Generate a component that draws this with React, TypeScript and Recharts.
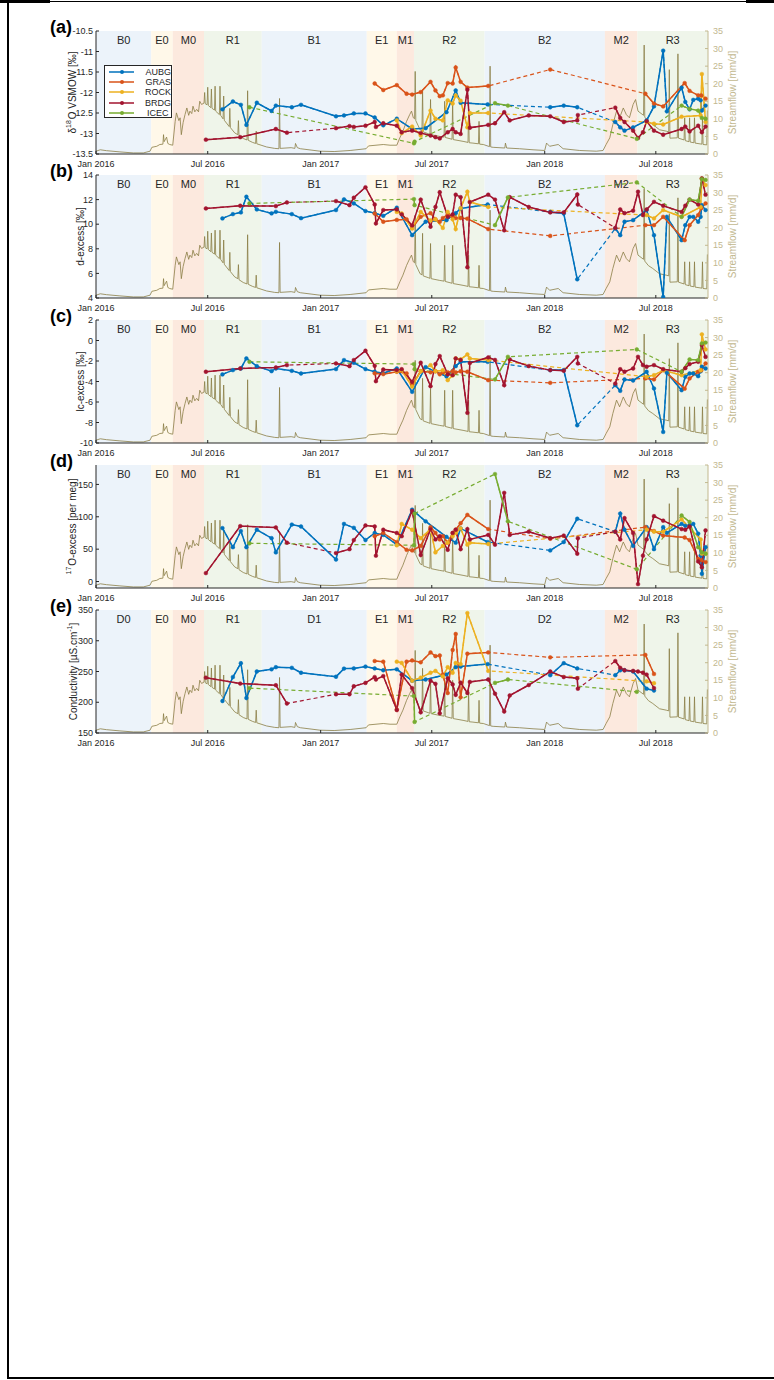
import type { ReactNode } from "react";
import { ComposedChart, Legend, Line, ReferenceArea, XAxis, YAxis } from "recharts";

const FONT = '"Liberation Sans", Arial, Helvetica, sans-serif';
const INK = "#262626";
const FLOW_INK = "#8a7d45";
const FLOW_AXIS = "#c2b88f";

// x axis in days since 1 Jan 2016
const X_MAX = 997;
const X_TICKS = [0, 182, 366, 547, 731, 912];
const X_TICK_LABELS = ["Jan 2016", "Jul 2016", "Jan 2017", "Jul 2017", "Jan 2018", "Jul 2018"];

// hydrological periods (background bands)
const PERIOD_NAMES = ["B0", "E0", "M0", "R1", "B1", "E1", "M1", "R2", "B2", "M2", "R3"];
const PERIOD_NAMES_E = ["D0", "E0", "M0", "R1", "D1", "E1", "M1", "R2", "D2", "M2", "R3"];
const PERIOD_START = [0, 90, 125, 176, 270, 441, 490, 518, 633, 829, 882];
const PERIOD_END = [90, 125, 176, 270, 441, 490, 518, 633, 829, 882, 997];
const PERIOD_FILL: Record<string, string> = {
  B: "#ecf3fa",
  E: "#fff8e9",
  M: "#fce9de",
  R: "#eff5ea",
};

// streamflow [mm/d]
const FLOW_DAYS = [
  0, 7, 17, 39, 61, 77, 88, 91, 99, 104, 109, 110, 111, 115, 117, 120, 125, 129, 131, 135, 137, 139, 142,
  145, 148, 151, 153, 156, 158, 161, 164, 167, 169, 172, 176, 177, 178, 181, 182, 183, 187, 188, 189, 193,
  194, 195, 201, 202, 203, 207, 208, 209, 217, 218, 219, 226, 231, 232, 233, 240, 246, 247, 248, 255, 260,
  261, 262, 278, 291, 298, 299, 300, 318, 324, 325, 328, 333, 365, 388, 414, 440, 444, 468, 479, 490, 495,
  500, 506, 511, 514, 517, 519, 520, 521, 525, 528, 531, 532, 533, 541, 544, 545, 546, 560, 567, 568, 569,
  580, 581, 582, 598, 606, 607, 608, 614, 623, 624, 625, 631, 641, 642, 643, 647, 666, 667, 669, 690, 712,
  731, 734, 739, 753, 761, 788, 815, 826, 831, 837, 842, 848, 853, 859, 864, 869, 875, 879, 883, 892, 893,
  894, 900, 907, 918, 929, 933, 934, 935, 947, 948, 949, 958, 959, 960, 966, 967, 968, 974, 975, 976, 987,
  988, 989, 995, 996,
];
const FLOW_MM = [
  0.8, 1.2, 0.95, 0.6, 0.3, 0.3, 0.8, 1.9, 2.2, 2.7, 2.8, 5.5, 3.5, 4.8, 3.0, 2.7, 2.5, 9.3, 11.7, 9.5, 10.3,
  5.5, 9.0, 11.2, 13.1, 11.0, 12.2, 11.5, 13.6, 12.0, 12.7, 12.0, 15, 14.1, 14.5, 17.5, 14.3, 14, 19, 13.8,
  13.2, 18.5, 13, 12.5, 19.3, 12.2, 11.2, 19.3, 11, 10, 16.5, 9.6, 7.8, 13, 7.5, 6, 5.5, 9.5, 5.2, 4.4, 4,
  18, 3.9, 3.3, 3, 6.5, 2.9, 2, 1.6, 1.5, 15.8, 1.6, 1.8, 1.6, 3.0, 1.8, 1.5, 0.8, 0.7, 1.0, 1.5, 2.3, 2.7,
  2.5, 2.5, 4.6, 6.5, 9.3, 11.2, 12.2, 10.3, 10, 23.5, 9.5, 8.0, 6.9, 6.6, 18.4, 6.3, 5.8, 5.6, 15.5, 5.5,
  5.0, 4.8, 15, 4.7, 4.2, 15, 4.1, 3.6, 3.3, 12.2, 3.2, 3.1, 2.9, 9.3, 2.8, 2.7, 2.1, 25, 2.0, 1.9, 1.7,
  3.1, 1.7, 1.5, 1.2, 1.0, 3.1, 2.2, 2.7, 1.5, 1.0, 0.8, 1.0, 2.7, 4.6, 8.4, 12.2, 10.3, 13.1, 11.2, 10.3,
  14.1, 15.5, 12.2, 11, 31, 10.5, 9.2, 8.4, 6.9, 6.5, 6.3, 24, 4.5, 4.6, 28.5, 4.5, 4.0, 10.3, 3.8, 3.5,
  10.3, 3.4, 3.2, 10.3, 3.1, 2.8, 10.3, 2.7, 2.6, 12.4,
];

// stations
const STATIONS = ["AUBG", "GRAS", "ROCK", "BRDG", "ICEC"];
const STATION_COLORS = ["#0072bd", "#d95319", "#edb120", "#a2142f", "#77ac30"];

// AUBG
const AUBG_DAYS = [
  206, 223, 236, 245, 262, 286, 293, 319, 334, 391, 404, 420, 439, 454, 468, 490, 515, 537, 571, 586,
  594, 638, 740, 762, 784, 846, 854, 861, 875, 897, 909, 924, 930, 954, 960, 967, 973, 981, 985, 987, 993,
];
const AUBG_BREAKS = [740, 846];
const AUBG_D18O = [
  -12.41, -12.22, -12.3, -12.79, -12.25, -12.45, -12.32, -12.36, -12.3, -12.58, -12.56, -12.51, -12.51,
  -12.61, -12.8, -12.64, -12.89, -12.87, -12.48, -11.95, -12.25, -12.29, -12.36, -12.32, -12.36, -12.72,
  -12.85, -12.93, -12.85, -12.68, -12.34, -10.98, -12.46, -11.88, -12.23, -12.41, -12.18, -12.15, -12.19,
  -12.44, -12.32,
];
const AUBG_DEXC = [
  10.47, 10.82, 10.96, 12.23, 11.2, 10.88, 11.01, 10.82, 10.49, 11.15, 12.02, 11.69, 11.07, 10.9, 10.68,
  11.34, 9.11, 10.2, 10.33, 10.9, 11.28, 11.6, 11.0, 10.87, 5.52, 9.65, 9.11, 10.2, 10.33, 11.15, 9.11,
  4.08, 10.6, 8.7, 9.92, 10.6, 10.6, 10.2, 10.6, 11.55, 11.15,
];
const AUBG_LCEXC = [
  -3.31, -2.89, -2.73, -1.75, -2.5, -2.99, -2.73, -2.96, -3.22, -2.79, -1.91, -2.17, -2.79, -3.05, -3.2,
  -2.73, -5.01, -2.6, -3.5, -2.5, -2.08, -2.08, -2.89, -2.89, -8.27, -4.36, -4.91, -3.8, -3.9, -3.05,
  -4.68, -8.92, -3.15, -4.85, -3.54, -3.22, -3.22, -3.48, -3.0, -2.56, -2.73,
];
const AUBG_O17 = [
  82.5, 53, 78, 53, 80, 67, 45, 88, 85, 34, 89, 83, 64, 75, 72, 57, 111, 93, 69, 60, 82, 61, 48, 61, 97,
  77, 105, 80, 55, 84, 50, 84, 75, 89, 86, 87, 89, 74, 40, 12, 53,
];
const AUBG_COND = [
  202, 241, 263.5, 207, 250, 253.6, 257, 256, 248, 241.5, 254.7, 255, 258, 255, 252, 253.6, 235, 237, 245,
  257, 258, 262, 244, 263.5, 255, 244, 252, 252, 250, 222, 219, null, null, null, null, null, null, null,
  null, null, null,
];

// GRAS
const GRAS_DAYS = [
  454, 468, 490, 506, 515, 529, 545, 553, 560, 565, 573, 581, 586, 594, 605, 639, 740, 895, 909, 924, 959,
  967, 981, 986, 993,
];
const GRAS_BREAKS = [740, 895];
const GRAS_D18O = [
  -11.78, -11.94, -11.82, -12.03, -12.05, -11.99, -11.74, -11.95, -12.09, -12.07, -11.77, -11.78, -11.39,
  -11.74, -11.88, -11.84, -11.44, -12.03, -12.27, -12.34, -11.77, -11.96, -12.07, -12.07, -12.15,
];
const GRAS_DEXC = [
  10.87, 10.2, 10.35, 10.4, 9.7, 10.6, 10.9, 10.4, 10.2, 10.5, 10.8, 10.6, 10.5, 10.5, 10.45, 9.6, 9.05,
  9.92, 9.92, 10.6, 8.7, 9.92, 10.74, 11.3, 11.69,
];
const GRAS_LCEXC = [
  -3.2, -3.28, -3.05, -3.2, -4.3, -3.0, -3.1, -3.0, -3.3, -3.1, -3.1, -3.0, -3.1, -3.0, -3.05, -3.87, -4.13,
  -3.7, -3.8, -2.89, -4.7, -3.7, -3.05, -2.9, -2.24,
];
const GRAS_O17 = [
  70, 75, 61, 49, 48, 55, 84, 75, 65, 70, 60, 75, 80, 90, 103, 81, 66, 84, 78, 71, 68, 64, 35, 33, 30,
];
const GRAS_COND = [
  267, 266, 188, 266, 268, 265, 281, 275, 276, 245, 215, 285, 311, 208, 279, 281, 273, 277, 246, null,
  null, null, null, null, null,
];

// ROCK
const ROCK_DAYS = [
  490, 498, 515, 529, 545, 553, 565, 573, 581, 586, 594, 605, 609, 639, 897, 909, 924, 954, 985, 987, 993,
];
const ROCK_BREAKS = [897];
const ROCK_D18O = [
  -12.68, -12.99, -12.83, -13.05, -12.44, -12.64, -12.68, -12.19, -12.27, -12.07, -12.2, -12.85, -12.5,
  -12.5, -12.72, -12.76, -12.78, -12.59, -12.56, -11.55, -12.72,
];
const ROCK_DEXC = [
  11.0, 10.87, 9.65, 11.0, 10.3, 10.4, 9.7, 11.0, 10.4, 9.6, 11.3, 12.64, 11.8, 11.4, 10.74, 10.47, 11.15,
  10.6, 11.4, 13.7, 13.18,
];
const ROCK_LCEXC = [
  -3.0, -2.9, -4.5, -3.0, -2.4, -3.0, -2.9, -3.87, -3.4, -1.75, -1.85, -1.36, -1.75, -1.91, -3.54, -3.38,
  -2.9, -3.38, -2.9, 0.6, -0.87,
];
const ROCK_O17 = [56, 89, 80, 67, 81, 45, 55, 60, 70, 75, 82, 57, 60, 58, 80, 77, 77, 96, 65, 43, 43];
const ROCK_COND = [
  266, 264, 235, 240, 248, 251, 242, 257, 248, 264, 262, 345, null, 251, 234, 231, null, null, null, null,
  null,
];

// BRDG
const BRDG_DAYS = [
  179, 235, 293, 311, 391, 413, 420, 439, 454, 456, 468, 490, 498, 515, 529, 545, 553, 560, 573, 581, 586,
  594, 605, 609, 639, 650, 665, 674, 705, 740, 762, 784, 785, 846, 854, 861, 875, 883, 891, 897, 909, 924,
  954, 960, 967, 981, 987, 993,
];
const BRDG_BREAKS = [391, 846];
const BRDG_D18O = [
  -13.15, -13.09, -12.89, -12.98, -12.87, -12.82, -12.84, -12.81, -12.72, -12.84, -12.75, -12.81, -12.97,
  -12.93, -12.99, -13.05, -13.09, -13.12, -12.97, -12.89, -12.97, -13.01, -11.93, -12.86, -12.79, -12.75,
  -12.48, -12.68, -12.56, -12.58, -12.72, -12.68, -12.55, -12.37, -12.62, -12.72, -12.93, -13.11, -12.97,
  -12.7, -12.93, -13.03, -12.89, -12.83, -12.95, -12.81, -12.97, -12.83,
];
const BRDG_DEXC = [
  11.28, 11.5, 11.47, 11.77, 11.88, 11.55, 12.15, 13.0, 11.6, 10.06, 11.15, 11.2, 10.8, 9.9, 12.0, 9.8,
  11.4, 12.6, 10.6, 10.8, 12.4, 12.2, 6.5, 11.8, 12.4, 12.0, 9.5, 12.2, 11.4, 10.96, 10.96, 12.42, 11.6,
  9.7, 11.2, 10.9, 11.1, 12.64, 10.74, 11.2, 11.82, 11.5, 11.0, 11.5, 12.0, 11.6, 13.73, 12.4,
];
const BRDG_LCEXC = [
  -3.05, -2.73, -2.63, -2.4, -2.24, -2.5, -1.91, -1.0, -2.47, -3.97, -2.83, -2.89, -2.8, -4.03, -2.17,
  -4.46, -2.3, -1.52, -3.3, -3.38, -1.75, -1.9, -7.06, -2.2, -1.65, -1.9, -4.36, -1.85, -2.5, -2.89,
  -2.95, -1.59, -2.24, -4.2, -2.8, -3.05, -2.73, -1.59, -2.4, -2.56, -2.4, -2.8, -3.05, -2.7, -2.3, -2.08,
  -0.45, -1.6,
];
const BRDG_O17 = [
  13, 85.6, 83.5, 60, 44, 50, 64, 86.6, 85, 40, 80, 75, 70, 109, 41, 81, 65, 70, 49, 75, 80, 50, 81, 65,
  72, 57, 137, 72, 77, 67, 71, 43, 67, 77, 65, 98, 75, -4, 40, 65, 101, 94, 81, 80, 85, 31, 22, 79,
];
const BRDG_COND = [
  240, 230.4, 227.7, 198, 213, 213, 226, 231.5, 241, 237, 242.6, 187.5, 245, 223, 183.6, 235, 230, 182,
  239, 229, 212, 232, 215, 233, 237, 214, 185, 211, 228, 250, 241, 239, 222, 267, 256, 252, 251, 250, 248,
  245, 223, null, null, null, null, null, null, null,
];

// ICEC
const ICEC_DAYS = [250, 518, 519, 650, 671, 881, 954, 967, 981, 987, 993];
const ICEC_BREAKS = [518, 650, 881, 954];
const ICEC_D18O = [-12.36, -13.24, -13.2, -12.26, -12.32, -13.13, -12.32, -12.4, -12.44, -12.62, -12.64];
const ICEC_DEXC = [11.69, 12.04, 11.55, 9.92, 12.18, 13.4, 10.6, 12.0, 11.9, 13.67, 13.6];
const ICEC_LCEXC = [-2.08, -2.3, -2.8, -3.8, -1.59, -0.87, -3.05, -1.85, -1.91, -0.28, -0.2];
const ICEC_O17 = [59, 56, 105, 166, 93, 19, 102, 92, 53, 45, 43];
const ICEC_COND = [223, 210, 168, 231.5, 237, 217, null, null, null, null, null];

// panels
const PANEL_TAGS = ["(a)", "(b)", "(c)", "(d)", "(e)"];
const PANEL_TOPS = [31, 175, 320, 465, 610];
const Y_DOMAINS = [
  [-13.5, -10.5],
  [4, 14],
  [-10, 2],
  [-10, 180],
  [150, 350],
];
const Y_TICKS = [
  [-13.5, -13, -12.5, -12, -11.5, -11, -10.5],
  [4, 6, 8, 10, 12, 14],
  [-10, -8, -6, -4, -2, 0, 2],
  [0, 50, 100, 150],
  [150, 200, 250, 300, 350],
];
const FLOW_TICKS = [0, 5, 10, 15, 20, 25, 30, 35];
const TITLE_X = [72, 80, 80, 72, 73];

const sup = (t: string) => (
  <>
    <tspan fontSize={7} dy={-4}>
      {t}
    </tspan>
    <tspan dy={4}>{"\u200a"}</tspan>
  </>
);

const Y_TITLES: ReactNode[] = [
  <>
    {"\u03b4"}
    {sup("18")}O VSMOW [‰]
  </>,
  <>d-excess [‰]</>,
  <>lc-excess [‰]</>,
  <>
    {sup("17")}O-excess [per meg]
  </>,
  <>
    Conductivity [µS.cm
    <tspan fontSize={7} dy={-4}>
      -1
    </tspan>
    <tspan dy={4}>]</tspan>
  </>,
];

const FLOW = FLOW_DAYS.map((day, i) => ({ day, q: FLOW_MM[i] }));

const STATION_DATA = [
  { days: AUBG_DAYS, breaks: AUBG_BREAKS, vals: [AUBG_D18O, AUBG_DEXC, AUBG_LCEXC, AUBG_O17, AUBG_COND] },
  { days: GRAS_DAYS, breaks: GRAS_BREAKS, vals: [GRAS_D18O, GRAS_DEXC, GRAS_LCEXC, GRAS_O17, GRAS_COND] },
  { days: ROCK_DAYS, breaks: ROCK_BREAKS, vals: [ROCK_D18O, ROCK_DEXC, ROCK_LCEXC, ROCK_O17, ROCK_COND] },
  { days: BRDG_DAYS, breaks: BRDG_BREAKS, vals: [BRDG_D18O, BRDG_DEXC, BRDG_LCEXC, BRDG_O17, BRDG_COND] },
  { days: ICEC_DAYS, breaks: ICEC_BREAKS, vals: [ICEC_D18O, ICEC_DEXC, ICEC_LCEXC, ICEC_O17, ICEC_COND] },
];

type Pt = { day: number; v: number | null };

// "all" is drawn dashed underneath, "solid" breaks at sampling gaps
function splitSeries(days: number[], vals: (number | null)[], breaks: number[]) {
  const all: Pt[] = [];
  const solid: Pt[] = [];
  let gap = false;
  days.forEach((day, i) => {
    if (breaks.includes(day)) gap = true;
    const v = vals[i];
    if (v == null) return;
    if (gap && solid.length) solid.push({ day: day - 0.5, v: null });
    gap = false;
    all.push({ day, v });
    solid.push({ day, v });
  });
  return { all, solid };
}

function LegendBox() {
  return (
    <div
      style={{
        width: 68,
        height: 53,
        boxSizing: "border-box",
        border: `1px solid ${INK}`,
        background: "#fff",
        padding: "1px 0 0 3px",
        fontFamily: FONT,
      }}
    >
      {STATIONS.map((s, i) => (
        <div key={s} style={{ display: "flex", alignItems: "center", height: 10.2, fontSize: 9, color: INK }}>
          <svg width={39} height={8}>
            <line x1={1} y1={4} x2={26} y2={4} stroke={STATION_COLORS[i]} strokeWidth={1.5} />
            <circle cx={14} cy={4} r={2} fill={STATION_COLORS[i]} />
          </svg>
          <span>{s}</span>
        </div>
      ))}
    </div>
  );
}

function leftTitle(index: number) {
  return (props: any) => {
    const vb = props.viewBox || {};
    const cx = TITLE_X[index];
    const cy = (vb.y ?? 4) + (vb.height ?? 123) / 2;
    return (
      <text
        x={cx}
        y={cy}
        transform={`rotate(-90 ${cx} ${cy})`}
        textAnchor="middle"
        dominantBaseline="central"
        fontSize={10}
        fill={INK}
        fontFamily={FONT}
      >
        {Y_TITLES[index]}
      </text>
    );
  };
}

function rightTitle(props: any) {
  const vb = props.viewBox || {};
  const cx = 732;
  const cy = (vb.y ?? 4) + (vb.height ?? 123) / 2;
  return (
    <text
      x={cx}
      y={cy}
      transform={`rotate(-90 ${cx} ${cy})`}
      textAnchor="middle"
      dominantBaseline="central"
      fontSize={10}
      fill={FLOW_AXIS}
      fontFamily={FONT}
    >
      Streamflow [mm/d]
    </text>
  );
}

function Panel({ index }: { index: number }) {
  const top = PANEL_TOPS[index];
  const names = index === 4 ? PERIOD_NAMES_E : PERIOD_NAMES;
  const series = STATION_DATA.map((s) => splitSeries(s.days, s.vals[index], s.breaks));

  return (
    <div style={{ position: "absolute", left: 0, top: top - 4, width: 774, height: 145 }}>
      <ComposedChart width={774} height={145} margin={{ top: 4, right: 26, bottom: 0, left: 56 }}>
        {PERIOD_START.map((x1, k) => (
          <ReferenceArea
            key={`p${k}`}
            x1={x1}
            x2={PERIOD_END[k]}
            yAxisId="l"
            fill={PERIOD_FILL[PERIOD_NAMES[k][0]]}
            fillOpacity={1}
            stroke="none"
            label={{ value: names[k], position: "insideTop", offset: 5, fill: INK, fontSize: 11 }}
          />
        ))}
        <XAxis
          dataKey="day"
          type="number"
          domain={[0, X_MAX]}
          ticks={X_TICKS}
          interval={0}
          tickFormatter={(d) => X_TICK_LABELS[X_TICKS.indexOf(d)] ?? ""}
          height={18}
          stroke={INK}
          tickSize={-3}
          tickMargin={10}
          tick={{ fontSize: 9, fill: INK }}
          allowDataOverflow
        />
        <YAxis
          yAxisId="l"
          domain={Y_DOMAINS[index]}
          ticks={Y_TICKS[index]}
          interval={0}
          width={40}
          stroke={INK}
          tickSize={-3}
          tickMargin={6}
          tick={{ fontSize: 9, fill: INK }}
          allowDataOverflow
          label={leftTitle(index)}
        />
        <YAxis
          yAxisId="r"
          orientation="right"
          domain={[0, 35]}
          ticks={FLOW_TICKS}
          interval={0}
          width={40}
          stroke={FLOW_AXIS}
          tickSize={-3}
          tickMargin={8}
          tick={{ fontSize: 9, fill: FLOW_AXIS }}
          allowDataOverflow
          label={rightTitle}
        />
        <Line
          data={FLOW}
          dataKey="q"
          yAxisId="r"
          stroke={FLOW_INK}
          strokeWidth={0.8}
          dot={false}
          isAnimationActive={false}
        />
        {series.map((s, k) => (
          <Line
            key={`d${k}`}
            data={s.all}
            dataKey="v"
            yAxisId="l"
            stroke={STATION_COLORS[k]}
            strokeWidth={1.2}
            strokeDasharray="4 3"
            dot={false}
            connectNulls
            isAnimationActive={false}
          />
        ))}
        {series.map((s, k) => (
          <Line
            key={`s${k}`}
            data={s.solid}
            dataKey="v"
            yAxisId="l"
            stroke={STATION_COLORS[k]}
            strokeWidth={1.5}
            dot={{ r: 1.9, fill: STATION_COLORS[k], stroke: STATION_COLORS[k], strokeWidth: 0.5 }}
            isAnimationActive={false}
          />
        ))}
        {index === 0 && (
          <Legend
            verticalAlign="middle"
            align="center"
            layout="horizontal"
            wrapperStyle={{ left: 104, top: 38, width: 68, height: 53 }}
            content={() => <LegendBox />}
          />
        )}
      </ComposedChart>
      <div
        style={{
          position: "absolute",
          left: 50,
          top: -10,
          fontSize: 18,
          lineHeight: "20px",
          fontWeight: "bold",
          color: "#000",
          fontFamily: FONT,
        }}
      >
        {PANEL_TAGS[index]}
      </div>
    </div>
  );
}

function Frame() {
  const bar = (left: number, top: number, width: number, height: number) => (
    <div style={{ position: "absolute", left, top, width, height, background: "#000" }} />
  );
  return (
    <>
      {bar(0, 0, 50, 3)}
      {bar(8, 1, 766, 1)}
      {bar(746, 0, 28, 3)}
      {bar(7, 0, 2, 1379)}
      {bar(8, 1377, 766, 2)}
    </>
  );
}

export default function App() {
  return (
    <div
      style={{
        position: "absolute",
        left: 0,
        top: 0,
        width: 774,
        height: 1380,
        background: "#fff",
        fontFamily: FONT,
        overflow: "hidden",
      }}
    >
      <Frame />
      {PANEL_TAGS.map((_, i) => (
        <Panel key={i} index={i} />
      ))}
    </div>
  );
}
